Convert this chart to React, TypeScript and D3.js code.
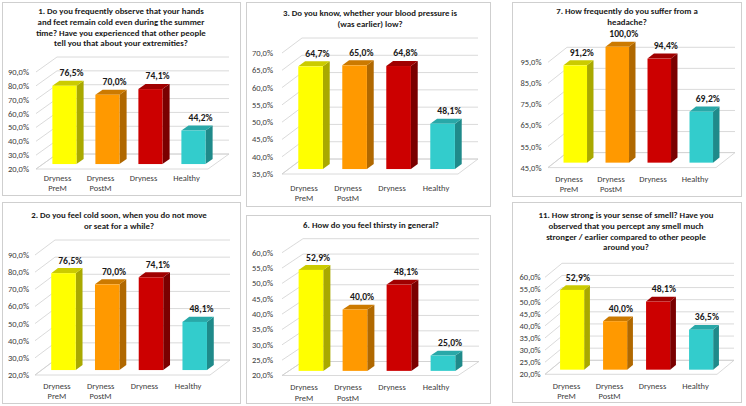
import React from "react"
import * as d3 from "d3"

const categories = ["Dryness PreM", "Dryness PostM", "Dryness", "Healthy"]

const q1Title = [
  "1. Do you frequently observe that your hands",
  "and feet remain cold even during the summer",
  "time? Have you experienced that other people",
  "tell you that about your extremities?",
]
const q2Title = ["2. Do you feel cold soon, when you do not move", "or seat for a while?"]
const q3Title = ["3. Do you know, whether your blood pressure is", "(was earlier) low?"]
const q6Title = ["6. How do you feel thirsty in general?"]
const q7Title = ["7. How frequently do you suffer from a", "headache?"]
const q11Title = [
  "11. How strong is your sense of smell? Have you",
  "observed that you percept any smell much",
  "stronger / earlier compared to other people",
  "around you?",
]

const q1Values = [76.5, 70.0, 74.1, 44.2]
const q2Values = [76.5, 70.0, 74.1, 48.1]
const q3Values = [64.7, 65.0, 64.8, 48.1]
const q6Values = [52.9, 40.0, 48.1, 25.0]
const q7Values = [91.2, 100.0, 94.4, 69.2]
const q11Values = [52.9, 40.0, 48.1, 36.5]

const q1Ticks = [20, 30, 40, 50, 60, 70, 80, 90]
const q2Ticks = [20, 30, 40, 50, 60, 70, 80, 90]
const q3Ticks = [35, 40, 45, 50, 55, 60, 65, 70]
const q6Ticks = [20, 25, 30, 35, 40, 45, 50, 55, 60]
const q7Ticks = [45, 55, 65, 75, 85, 95]
const q11Ticks = [20, 25, 30, 35, 40, 45, 50, 55, 60]

const fronts = ["#FFFF00", "#FF9900", "#CC0000", "#33CCCC"]
const sides = ["#A9A900", "#B06800", "#7A0000", "#1F8A8A"]
const tops = ["#CBCB00", "#CC7A00", "#A00000", "#29A8A8"]

const FONT = "Calibri, Carlito, Lato, sans-serif"
const fmt = (v: number) => v.toFixed(1).replace(".", ",") + "%"

interface PanelProps {
  title: string[]
  values: number[]
  ticks: number[]
  box: [number, number, number, number]
  titleX: number
  titleY: number
  x0: number
  x1: number
  yBottom: number
  yTop: number
  dx: number
  dy: number
  labelX: number
  catY: number
}

function Panel(p: PanelProps) {
  const [bx, by, bw, bh] = p.box
  const lo = p.ticks[0]
  const hi = p.ticks[p.ticks.length - 1]
  const y = d3.scaleLinear().domain([lo, hi]).range([p.yBottom, p.yTop])
  const x = d3.scaleBand<string>().domain(categories).range([p.x0, p.x1]).paddingInner(0.44).paddingOuter(0.22)

  // bars sit in the middle third of the floor depth
  const t0 = 0.33
  const t1 = 0.67
  const ddx = (t1 - t0) * p.dx
  const ddy = (t1 - t0) * p.dy

  const floorY = y(lo)
  const floor = [
    [p.x0, floorY],
    [p.x1, floorY],
    [p.x1 + p.dx, floorY - p.dy],
    [p.x0 + p.dx, floorY - p.dy],
  ]

  return (
    <g>
      <rect x={bx + 0.5} y={by + 0.5} width={bw} height={bh} fill="#fff" stroke="#cfcfcf" />
      {p.title.map((line, i) => (
        <text
          key={i}
          x={p.titleX}
          y={p.titleY + i * 10.8}
          dy="0.35em"
          textAnchor="middle"
          fontSize={8.8}
          fontWeight="bold"
          fill="#1a1a1a"
        >
          {line}
        </text>
      ))}
      {p.ticks.map((t) => (
        <g key={t}>
          <line
            x1={p.x0}
            y1={y(t)}
            x2={p.x0 + p.dx}
            y2={y(t) - p.dy}
            stroke="#d0d0d0"
            strokeWidth={0.8}
          />
          <line
            x1={p.x0 + p.dx}
            y1={y(t) - p.dy}
            x2={p.x1 + p.dx}
            y2={y(t) - p.dy}
            stroke="#d0d0d0"
            strokeWidth={0.8}
          />
          <text x={p.labelX} y={y(t)} dy="0.35em" textAnchor="end" fontSize={8.5} fill="#404040">
            {fmt(t)}
          </text>
        </g>
      ))}
      <polygon points={floor.map((d) => d.join(",")).join(" ")} fill="none" stroke="#d0d0d0" strokeWidth={0.8} />
      {categories.map((c, i) => {
        const v = p.values[i]
        const left = (x(c) as number) + t0 * p.dx
        const w = x.bandwidth()
        const top = y(v) - t0 * p.dy
        const bottom = y(lo) - t0 * p.dy
        const side = [
          [left + w, top],
          [left + w + ddx, top - ddy],
          [left + w + ddx, bottom - ddy],
          [left + w, bottom],
        ]
        const cap = [
          [left, top],
          [left + w, top],
          [left + w + ddx, top - ddy],
          [left + ddx, top - ddy],
        ]
        const words = c.split(" ")
        const cx = (x(c) as number) + w / 2
        return (
          <g key={c}>
            <polygon points={side.map((d) => d.join(",")).join(" ")} fill={sides[i]} />
            <polygon points={cap.map((d) => d.join(",")).join(" ")} fill={tops[i]} />
            <rect x={left} y={top} width={w} height={bottom - top} fill={fronts[i]} />
            <text
              x={left + w / 2 + ddx}
              y={top - ddy - 4.5}
              textAnchor="middle"
              fontSize={9.6}
              fontWeight="bold"
              fill="#1a1a1a"
            >
              {fmt(v)}
            </text>
            {words.map((wd, j) => (
              <text
                key={j}
                x={cx}
                y={p.catY + j * 10.5}
                dy="0.35em"
                textAnchor="middle"
                fontSize={8.5}
                fill="#404040"
              >
                {wd}
              </text>
            ))}
          </g>
        )
      })}
    </g>
  )
}

export default function App() {
  return (
    <svg
      width={746}
      height={406}
      style={{ position: "absolute", left: 0, top: 0, background: "#fff" }}
      fontFamily={FONT}
    >
      <Panel
        title={q1Title}
        values={q1Values}
        ticks={q1Ticks}
        box={[2, 2, 238, 193]}
        titleX={121}
        titleY={11}
        x0={36}
        x1={208}
        yBottom={169}
        yTop={72}
        dx={21}
        dy={15}
        labelX={29}
        catY={178}
      />
      <Panel
        title={q2Title}
        values={q2Values}
        ticks={q2Ticks}
        box={[2, 202, 238, 201]}
        titleX={119}
        titleY={215}
        x0={35}
        x1={210}
        yBottom={375}
        yTop={255}
        dx={20}
        dy={15}
        labelX={29}
        catY={386}
      />
      <Panel
        title={q3Title}
        values={q3Values}
        ticks={q3Ticks}
        box={[246, 2, 244, 204]}
        titleX={370}
        titleY={13}
        x0={282}
        x1={458}
        yBottom={174}
        yTop={53}
        dx={20}
        dy={15}
        labelX={273}
        catY={188}
      />
      <Panel
        title={q6Title}
        values={q6Values}
        ticks={q6Ticks}
        box={[246, 215, 244, 188]}
        titleX={371}
        titleY={225}
        x0={282}
        x1={458}
        yBottom={375.5}
        yTop={252.7}
        dx={21}
        dy={14}
        labelX={273}
        catY={387.5}
      />
      <Panel
        title={q7Title}
        values={q7Values}
        ticks={q7Ticks}
        box={[512, 2, 229, 194]}
        titleX={627}
        titleY={11}
        x0={548}
        x1={716}
        yBottom={167.6}
        yTop={62.3}
        dx={19}
        dy={15}
        labelX={541.5}
        catY={179}
      />
      <Panel
        title={q11Title}
        values={q11Values}
        ticks={q11Ticks}
        box={[512, 202, 229, 200]}
        titleX={626}
        titleY={215}
        x0={545}
        x1={717}
        yBottom={374.3}
        yTop={277.3}
        dx={17}
        dy={14}
        labelX={540.7}
        catY={385.7}
      />
    </svg>
  )
}
